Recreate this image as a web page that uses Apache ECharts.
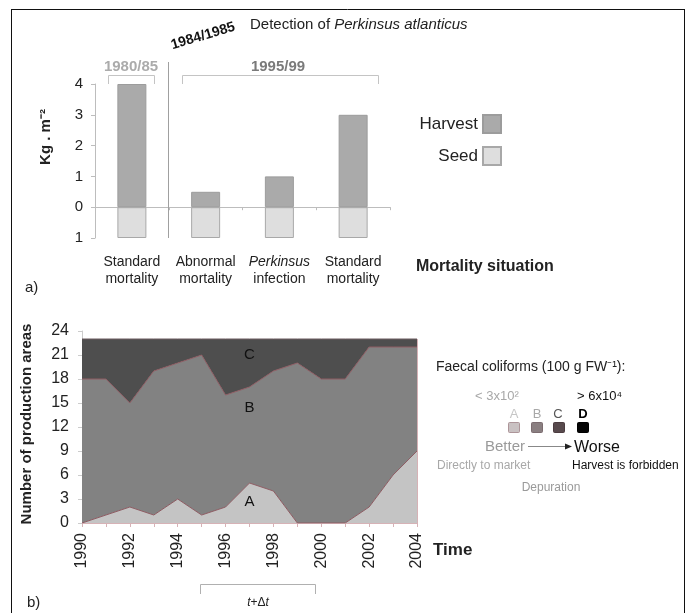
<!DOCTYPE html>
<html>
<head>
<meta charset="utf-8">
<script src="https://cdn.jsdelivr.net/npm/echarts@6/dist/echarts.min.js"></script>
<style>
  html, body { margin: 0; padding: 0; background: #fff; }
  #chart { width: 691px; height: 613px; }
</style>
</head>
<body>
<div id="chart"></div>
<script>
// ---- panel a): clam yield by mortality situation ----
const mortalityLabels = ['Standard\nmortality', 'Abnormal\nmortality', '{i|Perkinsus}\ninfection', 'Standard\nmortality'];
const harvestKg = [4, 0.5, 1, 3];
const seedKg = [1, 1, 1, 1];          // drawn below the zero line
const yieldTicks = [-1, 0, 1, 2, 3, 4];

// ---- panel b): production areas per faecal coliform class ----
const years = ['1990','1991','1992','1993','1994','1995','1996','1997','1998','1999','2000','2001','2002','2003','2004'];
const classA = [0, 1, 2, 1, 3, 1, 2, 5, 4, 0, 0, 0, 2, 6, 9];
const classB = [18, 17, 13, 18, 17, 20, 14, 12, 15, 20, 18, 18, 20, 16, 13];
const classC = [5, 5, 8, 4, 3, 2, 7, 6, 4, 3, 5, 5, 1, 1, 1];

const FONT = "'Liberation Sans', Arial, Helvetica, sans-serif";
const chart = echarts.init(document.getElementById('chart'), null, { renderer: 'canvas' });

const option = {
  animation: false,
  backgroundColor: '#ffffff',
  textStyle: { fontFamily: FONT },
  legend: {
    data: ['Harvest', 'Seed'],
    orient: 'vertical',
    right: 184,
    top: 109,
    align: 'right',
    itemWidth: 18,
    itemHeight: 18,
    itemGap: 12,
    icon: 'rect',
    selectedMode: false,
    textStyle: { fontFamily: FONT, fontSize: 17, color: '#222' }
  },
  grid: [
    { left: 95, top: 84, width: 295, height: 154 },
    { left: 82, top: 331, width: 335, height: 192 }
  ],
  xAxis: [
    {
      gridIndex: 0, type: 'category', data: [0, 1, 2, 3],
      position: 'bottom',
      axisLine: { onZero: true, lineStyle: { color: '#bdbdbd', width: 1 } },
      axisTick: { show: true, length: 3, lineStyle: { color: '#bdbdbd' } },
      axisLabel: { show: false }
    },
    {
      gridIndex: 0, type: 'category', data: [0, 1, 2, 3],
      position: 'bottom',
      axisLine: { show: false, onZero: false },
      axisTick: { show: false },
      axisLabel: {
        interval: 0, margin: 16, fontSize: 14, lineHeight: 17, color: '#222', fontFamily: FONT,
        formatter: (v, i) => mortalityLabels[i],
        rich: { i: { fontStyle: 'italic', fontSize: 14, lineHeight: 17, color: '#222', fontFamily: FONT } }
      }
    },
    {
      gridIndex: 1, type: 'category', data: years, boundaryGap: false,
      axisLine: { lineStyle: { color: '#d6b2b6', width: 1 } },
      axisTick: { show: true, interval: 0, length: 4, lineStyle: { color: '#d6b2b6' } },
      axisLabel: { interval: 1, rotate: 90, fontSize: 16, margin: 10, color: '#222', fontFamily: FONT }
    }
  ],
  yAxis: [
    {
      gridIndex: 0, type: 'value', min: yieldTicks[0], max: yieldTicks[yieldTicks.length - 1], interval: 1,
      axisLine: { show: true, lineStyle: { color: '#bdbdbd' } },
      axisTick: { show: true, length: 4, lineStyle: { color: '#bdbdbd' } },
      splitLine: { show: false },
      axisLabel: { fontSize: 15, margin: 12, color: '#222', fontFamily: FONT, formatter: v => String(Math.abs(v)) }
    },
    {
      gridIndex: 1, type: 'value', min: 0, max: 24, interval: 3,
      axisLine: { show: true, lineStyle: { color: '#cccccc' } },
      axisTick: { show: true, length: 4, lineStyle: { color: '#cccccc' } },
      splitLine: { show: false },
      axisLabel: { fontSize: 16, margin: 13, color: '#222', fontFamily: FONT }
    }
  ],
  series: [
    {
      name: 'Harvest', type: 'bar', xAxisIndex: 0, yAxisIndex: 0, stack: 'yield',
      barWidth: 29, data: harvestKg,
      itemStyle: { color: '#aaaaaa', borderColor: '#9c9c9c', borderWidth: 1 }
    },
    {
      name: 'Seed', type: 'bar', xAxisIndex: 0, yAxisIndex: 0, stack: 'yield',
      barWidth: 29, data: seedKg.map(v => -v),
      itemStyle: { color: '#dedede', borderColor: '#a8a8a8', borderWidth: 1 }
    },
    {
      name: 'A', type: 'line', xAxisIndex: 2, yAxisIndex: 1, stack: 'fc',
      data: classA, symbol: 'none',
      lineStyle: { color: '#8e5c63', width: 1 },
      areaStyle: { color: '#c4c4c4', opacity: 1 },
      itemStyle: { color: '#c4c4c4' }
    },
    {
      name: 'B', type: 'line', xAxisIndex: 2, yAxisIndex: 1, stack: 'fc',
      data: classB, symbol: 'none',
      lineStyle: { color: '#8e5c63', width: 1 },
      areaStyle: { color: '#828282', opacity: 1 },
      itemStyle: { color: '#828282' }
    },
    {
      name: 'C', type: 'line', xAxisIndex: 2, yAxisIndex: 1, stack: 'fc',
      data: classC, symbol: 'none',
      lineStyle: { color: '#6a5a5e', width: 1 },
      areaStyle: { color: '#4e4e4e', opacity: 1 },
      itemStyle: { color: '#4e4e4e' },
      markLine: {
        silent: true, symbol: 'none', label: { show: false },
        lineStyle: { color: '#d6b2b6', width: 1, type: 'solid' },
        data: [[{ coord: ['2004', 0] }, { coord: ['2004', 23] }]]
      }
    }
  ]
};
chart.setOption(option);

// class letters placed at data positions inside each band
const px = (x, y) => chart.convertToPixel({ xAxisIndex: 2, yAxisIndex: 1 }, [x, y]);
const pC = px('1997', 21), pB = px('1997', 14.4), pA = px('1997', 2.7);

function txt(x, y, text, style, extra) {
  return Object.assign({
    type: 'text', x: x, y: y, silent: true, z: 100,
    style: Object.assign({ text: text, fontFamily: FONT, fontSize: 14, fill: '#222', align: 'left', verticalAlign: 'middle' }, style)
  }, extra || {});
}
function line(x1, y1, x2, y2, color, w) {
  return { type: 'line', silent: true, z: 100, shape: { x1, y1, x2, y2 }, style: { stroke: color, lineWidth: w || 1 } };
}
function bracket(x1, x2, yTop, yLeg, color) {
  return { type: 'polyline', silent: true, z: 100, shape: { points: [[x1, yLeg], [x1, yTop], [x2, yTop], [x2, yLeg]] }, style: { stroke: color, lineWidth: 1, fill: null } };
}
function box(x, y, w, h, fill, stroke) {
  return { type: 'rect', silent: true, z: 100, shape: { x, y, width: w, height: h, r: 1 }, style: { fill, stroke: stroke || fill, lineWidth: 1 } };
}

const graphics = [
  // frame
  line(11, 9.5, 684, 9.5, '#111', 1),
  line(11.5, 9, 11.5, 613, '#111', 1),
  line(684.5, 9, 684.5, 613, '#111', 1),

  // panel a) annotations
  line(168.5, 62, 168.5, 238, '#a0a0a0', 1),
  txt(203, 36, '1984/1985', { fontSize: 14, fontWeight: 'bold', fill: '#111', align: 'center' }, { rotation: 0.29 }),
  txt(250, 25, 'Detection of {i|Perkinsus atlanticus}', {
    fontSize: 15, fill: '#222',
    rich: { i: { fontStyle: 'italic', fontSize: 15, fill: '#222', fontFamily: FONT } }
  }),
  txt(131, 67, '1980/85', { fontSize: 15, fontWeight: 'bold', fill: '#ababab', align: 'center' }),
  bracket(108.5, 154.5, 75.5, 84, '#c4c4c4'),
  txt(278, 67, '1995/99', { fontSize: 15, fontWeight: 'bold', fill: '#7a7a7a', align: 'center' }),
  bracket(182.5, 378.5, 75.5, 84, '#c4c4c4'),
  txt(46, 137, 'Kg . m⁻²', { fontSize: 15, fontWeight: 'bold', fill: '#222', align: 'center' }, { rotation: Math.PI / 2 }),
  txt(416, 267, 'Mortality situation', { fontSize: 16, fontWeight: 'bold', fill: '#222' }),
  txt(25, 288, 'a)', { fontSize: 15, fill: '#222' }),

  // panel b) annotations
  txt(27, 424, 'Number of production areas', { fontSize: 15, fontWeight: 'bold', fill: '#222', align: 'center' }, { rotation: Math.PI / 2 }),
  txt(433, 550, 'Time', { fontSize: 17, fontWeight: 'bold', fill: '#222' }),
  txt(pC[0], pC[1], 'C', { fontSize: 15, fill: '#111', align: 'center' }),
  txt(pB[0], pB[1], 'B', { fontSize: 15, fill: '#111', align: 'center' }),
  txt(pA[0], pA[1], 'A', { fontSize: 15, fill: '#111', align: 'center' }),
  bracket(200.5, 315.5, 584.5, 594, '#b0b0b0'),
  txt(258, 603, '{i|t}+Δ{i|t}', {
    fontSize: 12, fill: '#222', align: 'center',
    rich: { i: { fontStyle: 'italic', fontSize: 12, fill: '#222', fontFamily: FONT } }
  }),
  txt(27, 603, 'b)', { fontSize: 15, fill: '#222' }),

  // faecal coliform key
  txt(436, 367, 'Faecal coliforms (100 g FW⁻¹):', { fontSize: 14, fill: '#222' }),
  txt(475, 396, '< 3x10²', { fontSize: 13, fill: '#a8a8a8' }),
  txt(577, 396, '> 6x10⁴', { fontSize: 13, fill: '#111' }),
  txt(514, 414, 'A', { fontSize: 13, fill: '#c6c6c6', align: 'center' }),
  txt(537, 414, 'B', { fontSize: 13, fill: '#a8a8a8', align: 'center' }),
  txt(558, 414, 'C', { fontSize: 13, fill: '#555555', align: 'center' }),
  txt(583, 414, 'D', { fontSize: 13, fontWeight: 'bold', fill: '#000', align: 'center' }),
  box(508.5, 422.5, 11, 10, '#c9c1c2', '#ad9599'),
  box(531.5, 422.5, 11, 10, '#8a7f81', '#7c6c70'),
  box(553.5, 422.5, 11, 10, '#584a4d', '#4c3c40'),
  box(577.5, 422.5, 11, 10, '#050505', '#000'),
  txt(485, 447, 'Better', { fontSize: 15, fill: '#9a9a9a' }),
  line(528, 446.5, 566, 446.5, '#888', 1),
  { type: 'polygon', silent: true, z: 100, shape: { points: [[565, 443.5], [572, 446.5], [565, 449.5]] }, style: { fill: '#222' } },
  txt(574, 448, 'Worse', { fontSize: 16, fill: '#111' }),
  txt(437, 466, 'Directly to market', { fontSize: 12, fill: '#a8a8a8' }),
  txt(572, 466, 'Harvest is forbidden', { fontSize: 12, fill: '#111' }),
  txt(551, 488, 'Depuration', { fontSize: 12, fill: '#9a9a9a', align: 'center' })
];

chart.setOption({ graphic: graphics });
</script>
</body>
</html>
